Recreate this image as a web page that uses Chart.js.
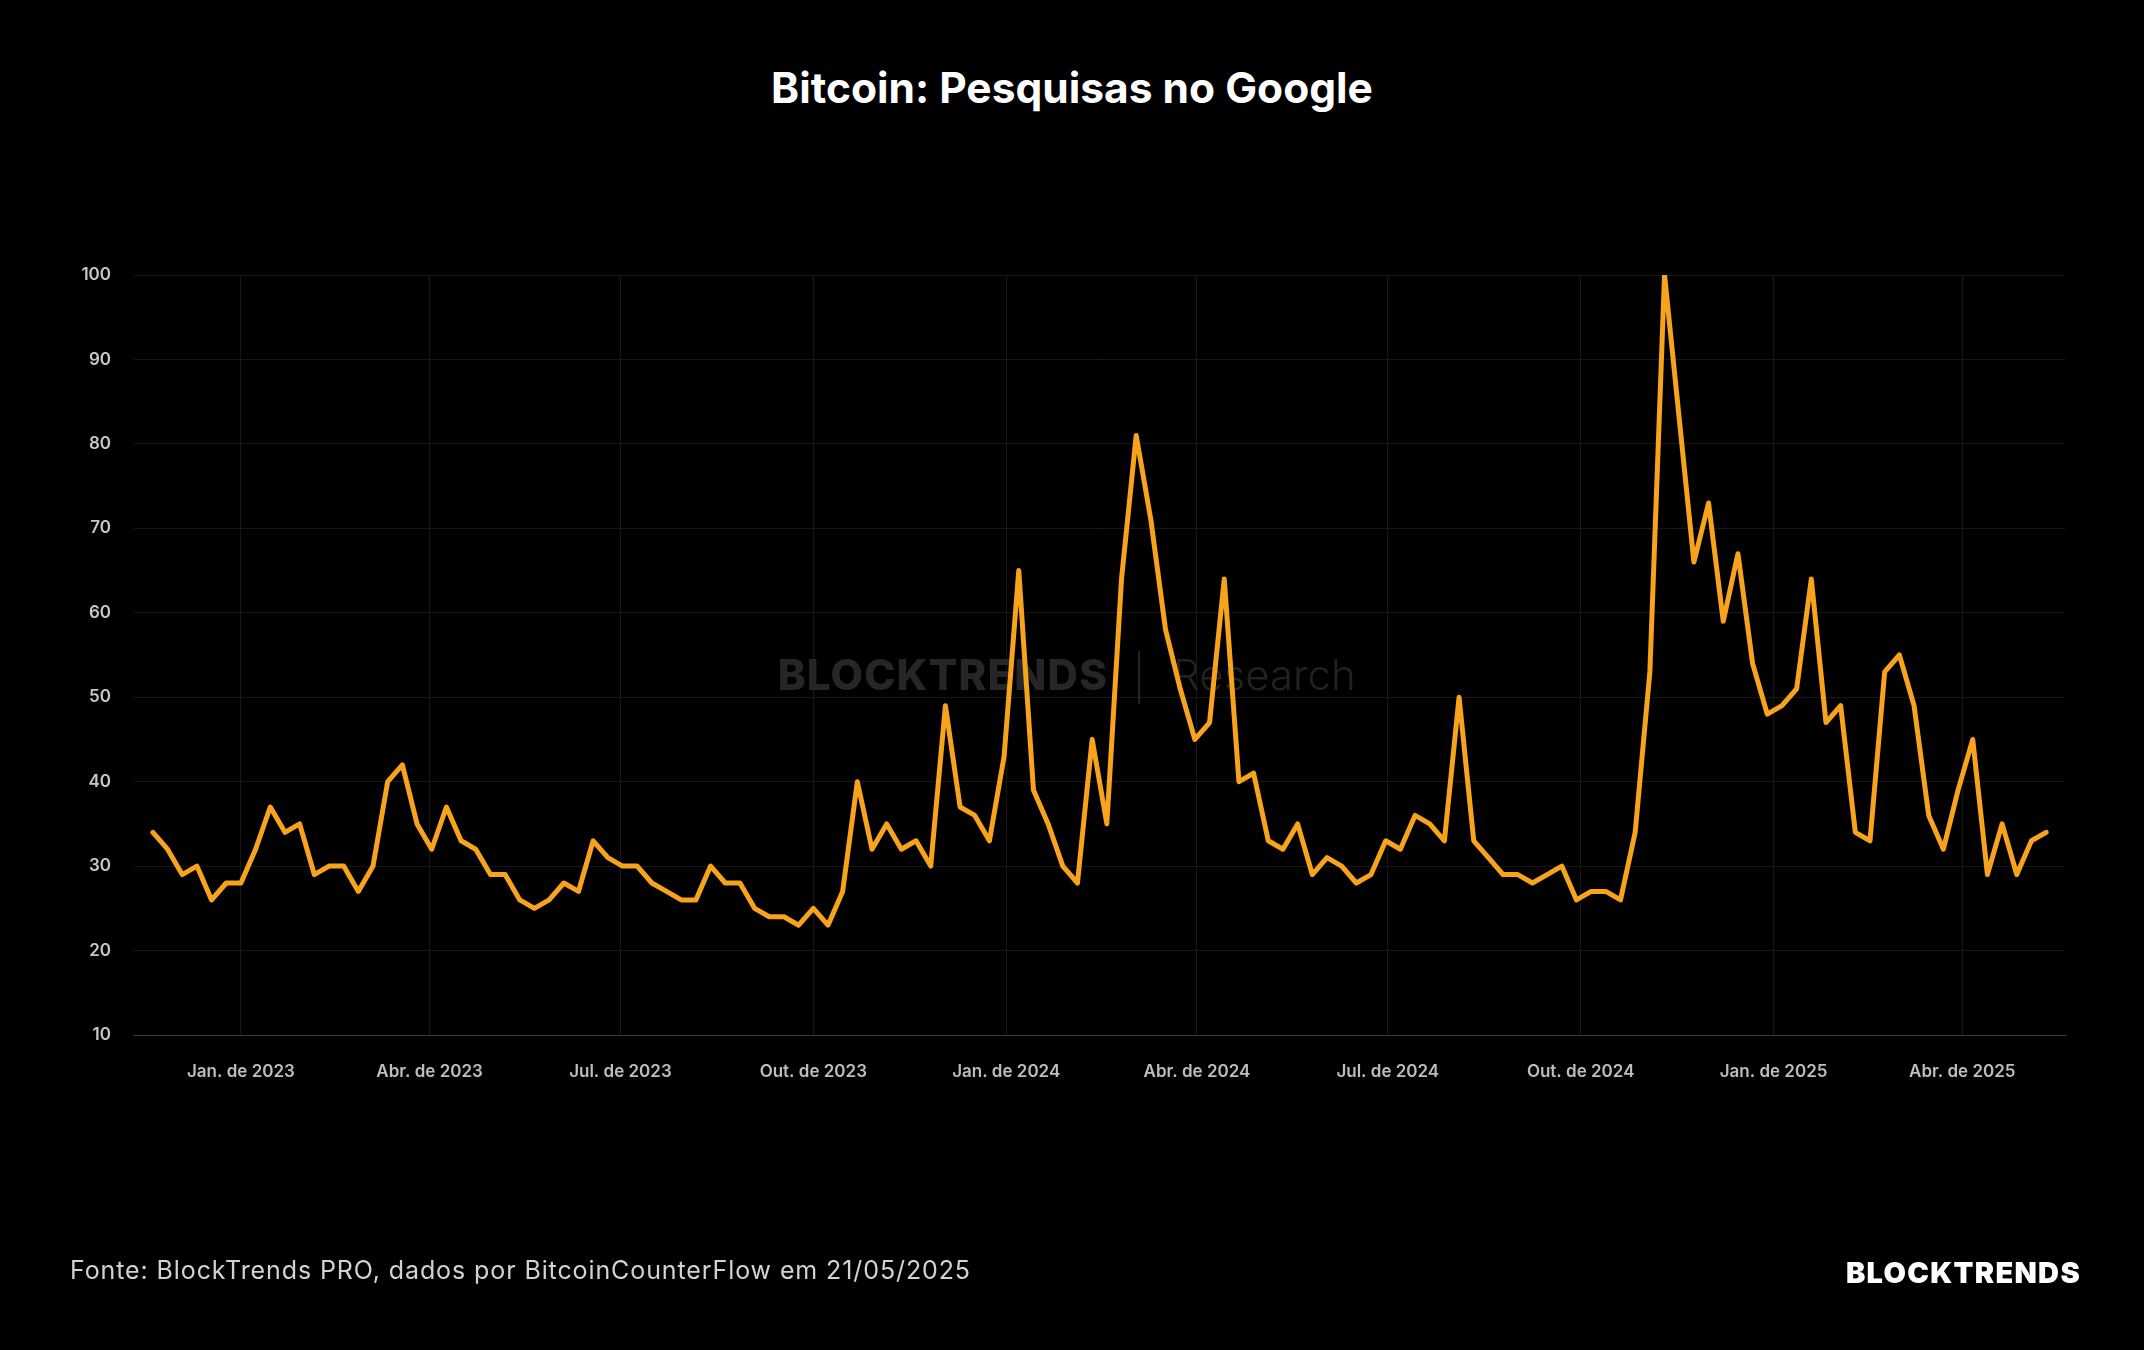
<!DOCTYPE html>
<html>
<head>
<meta charset="utf-8">
<script src="https://cdn.jsdelivr.net/npm/chart.js@4.4.1/dist/chart.umd.min.js"></script>
<style>
  html, body { margin:0; padding:0; background:#000; width:2144px; height:1350px; overflow:hidden; }
  #chart { position:absolute; left:0; top:0; }
  #title { position:absolute; left:0; top:67px; width:2144px; text-align:center; color:#fff;
           font-family:Inter, sans-serif; font-weight:700; font-size:42.5px; line-height:1; }
  #source { position:absolute; left:70px; top:1258px; color:#d2d2d2;
            font-family:Inter, sans-serif; font-weight:400; font-size:25px; line-height:1; letter-spacing:0.9px; }
  #brand { position:absolute; right:63px; top:1258px; color:#fff;
           font-family:Inter, sans-serif; font-weight:900; font-size:29px; line-height:1; letter-spacing:1.3px; }
</style>
</head>
<body>
<div id="title">Bitcoin: Pesquisas no Google</div>
<canvas id="chart" width="2144" height="1350"></canvas>
<div id="source">Fonte: BlockTrends PRO, dados por BitcoinCounterFlow em 21/05/2025</div>
<div id="brand">BLOCKTRENDS</div>
<script>
// ---- Data (weekly Google search interest) ----
const START_DATE = '2022-11-20';   // first weekly observation (Sunday)
const searchValues = [
  34,32,29,30,26,28,28,32,37,34,35,29,30,30,27,30,40,42,35,32,
  37,33,32,29,29,26,25,26,28,27,33,31,30,30,28,27,26,26,30,
  28,28,25,24,24,23,25,23,27,40,32,35,32,33,30,49,37,36,33,
  43,65,39,35,30,28,45,35,64,81,71,58,51,45,47,64,40,41,33,
  32,35,29,31,30,28,29,33,32,36,35,33,50,33,31,29,29,28,29,
  30,26,27,27,26,34,53,100,83,66,73,59,67,54,48,49,51,64,47,
  49,34,33,53,55,49,36,32,39,45,29,35,29,33,34
];
const xTickDates  = ['2023-01-01','2023-04-01','2023-07-01','2023-10-01','2024-01-01',
                     '2024-04-01','2024-07-01','2024-10-01','2025-01-01','2025-04-01'];
const xTickLabels = ['Jan. de 2023','Abr. de 2023','Jul. de 2023','Out. de 2023','Jan. de 2024',
                     'Abr. de 2024','Jul. de 2024','Out. de 2024','Jan. de 2025','Abr. de 2025'];
const yTickValues = [10,20,30,40,50,60,70,80,90,100];

// ---- helpers ----
function dayNum(s){ const [y,m,d] = s.split('-').map(Number); return Date.UTC(y,m-1,d)/86400000; }
const startDay = dayNum(START_DATE);
const points = searchValues.map((v,i)=>({x: startDay + 7*i, y: v}));
const firstDay = points[0].x, lastDay = points[points.length-1].x;

const watermark = {
  id:'watermark',
  beforeDatasetsDraw(chart){
    const {ctx, chartArea:a} = chart;
    const sepX = a.left + (a.right - a.left) * 0.5205;
    const cy = a.top + (a.bottom - a.top) * 0.529;
    ctx.save();
    ctx.textBaseline = 'middle';
    ctx.font = '800 42px Inter, sans-serif';
    ctx.fillStyle = '#262626';
    ctx.textAlign = 'right';
    ctx.letterSpacing = '1.2px';
    ctx.fillText('BLOCKTRENDS', sepX - 31, cy);
    ctx.letterSpacing = '0px';
    ctx.font = '300 42px Inter, sans-serif';
    ctx.fillStyle = '#222222';
    ctx.textAlign = 'left';
    ctx.fillText('Research', sepX + 34, cy);
    ctx.strokeStyle = '#262626';
    ctx.lineWidth = 2;
    ctx.beginPath();
    ctx.moveTo(sepX, cy - 26); ctx.lineTo(sepX, cy + 27);
    ctx.stroke();
    ctx.restore();
  }
};

new Chart(document.getElementById('chart'), {
  type:'line',
  data:{ datasets:[{
    data: points,
    borderColor:'#F7A31B',
    borderWidth:5,
    borderJoinStyle:'round',
    borderCapStyle:'round',
    pointRadius:0,
    tension:0,
    fill:false
  }]},
  options:{
    responsive:false,
    animation:false,
    layout:{ padding:{ left:0, right:79, top:275, bottom:0 } },
    plugins:{ legend:{display:false}, tooltip:{enabled:false}, title:{display:false} },
    scales:{
      x:{
        type:'linear',
        min: firstDay - 9,
        max: lastDay + 9,
        afterBuildTicks(scale){ scale.ticks = xTickDates.map(d=>({value: dayNum(d)})); },
        afterFit(scale){ scale.height = 315; },
        grid:{ color:'#171717', lineWidth:1, drawTicks:false },
        border:{ display:true, color:'#3d3d3d', width:1 },
        ticks:{
          autoSkip:false, maxRotation:0, padding:27,
          color:'#bdbdbd',
          font:{ family:'Inter', size:17, weight:'600' },
          callback(value, index){ return xTickLabels[index]; }
        }
      },
      y:{
        min: yTickValues[0],
        max: yTickValues[yTickValues.length-1],
        afterBuildTicks(scale){ scale.ticks = yTickValues.map(v=>({value:v})); },
        afterFit(scale){ scale.width = 134; },
        grid:{ color:'#171717', lineWidth:1, drawTicks:false },
        border:{ display:false },
        ticks:{
          padding:23,
          color:'#c6c6c6',
          font:{ family:'Inter', size:17, weight:'600' }
        }
      }
    }
  },
  plugins:[watermark]
});
</script>
</body>
</html>
